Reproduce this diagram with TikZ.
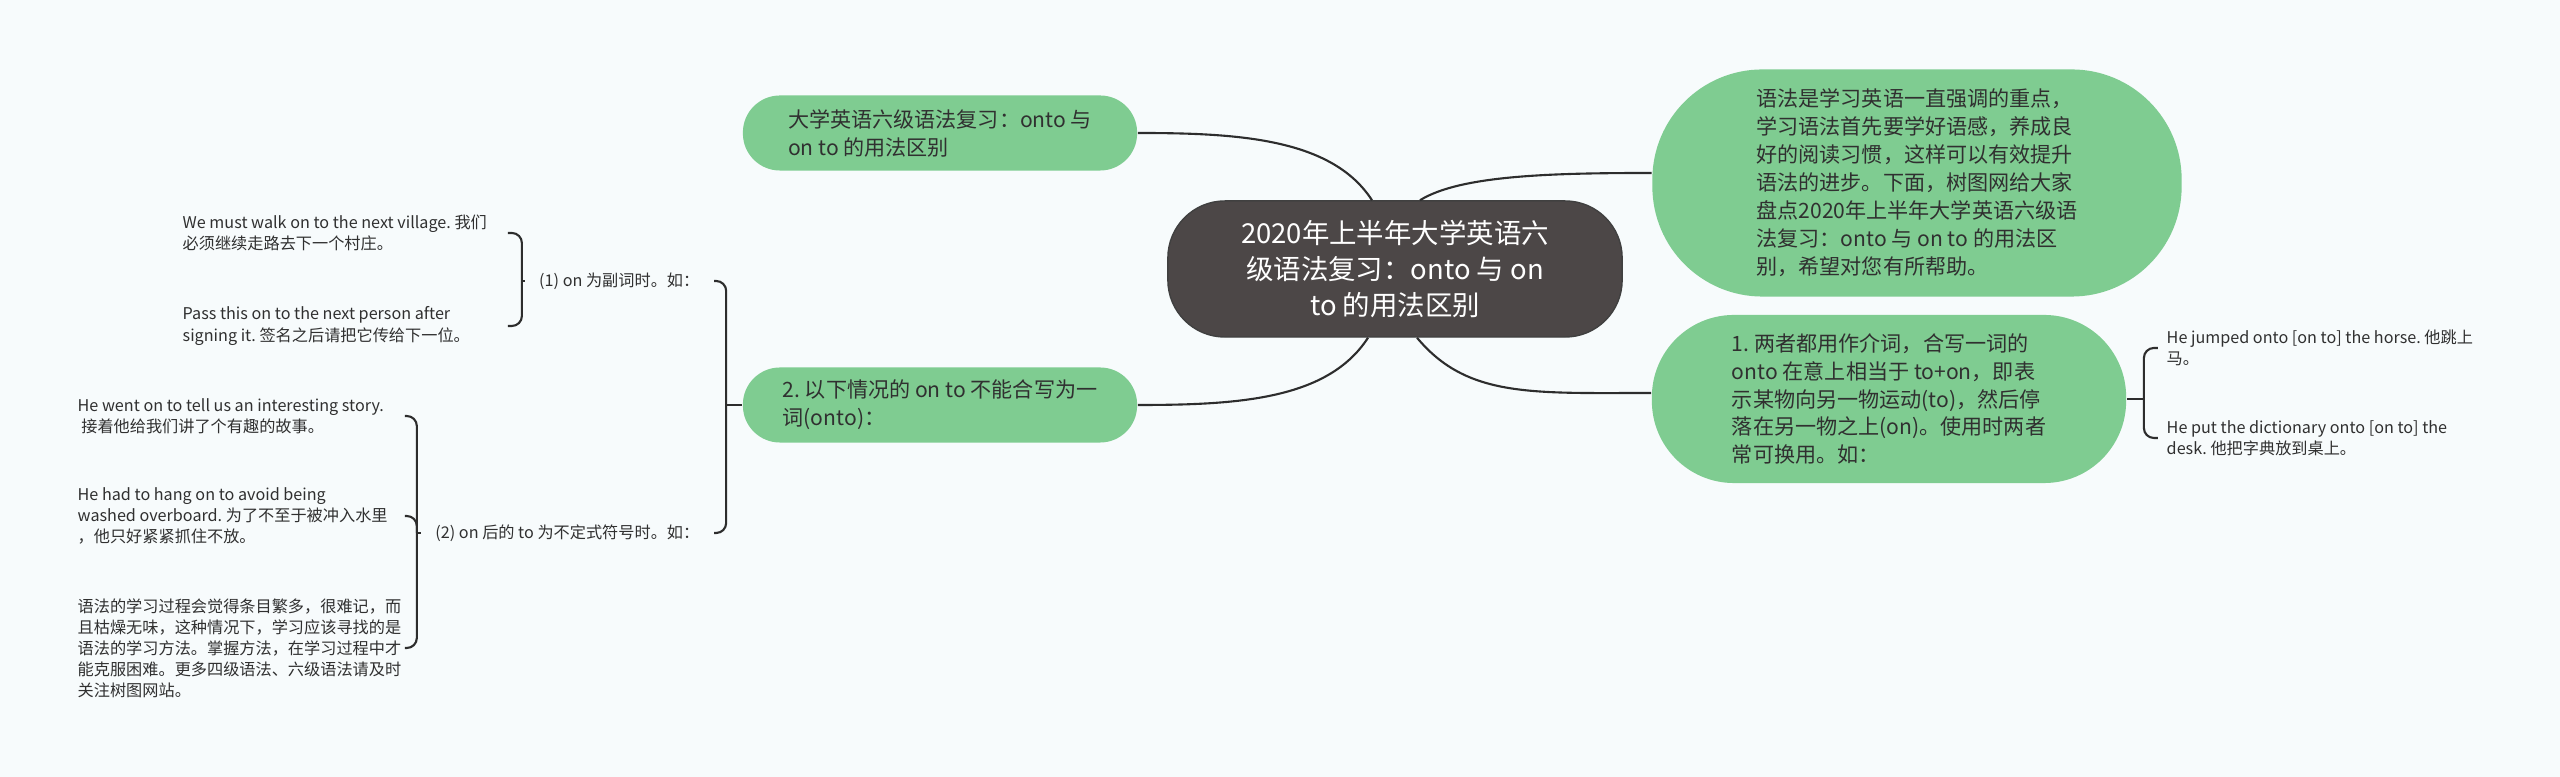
\documentclass[tikz,border=0pt]{standalone}
\usepackage{fontspec}
\setmainfont{Noto Sans CJK SC}
\frenchspacing
\usetikzlibrary{positioning,calc}
\definecolor{bgc}{RGB}{247,251,252}
\definecolor{darkc}{RGB}{76,71,71}
\definecolor{greenc}{RGB}{127,204,145}
\definecolor{inkc}{RGB}{48,48,48}
\definecolor{linec}{RGB}{45,45,45}
\tikzset{
  root/.style={draw=black!75, fill=darkc, text=white, line width=0.4pt,
    rounded corners=0.57cm, minimum width=4.54cm, minimum height=1.36cm,
    align=center, font=\fontsize{7.8}{10.2}\selectfont},
  topic/.style={fill=greenc, text=inkc, align=left, inner sep=0pt,
    font=\fontsize{6}{7.95}\selectfont},
  leaf/.style={text=inkc, align=left, inner sep=0pt,
    font=\fontsize{4.6}{6}\selectfont},
  caselabel/.style={text=inkc, inner xsep=0.14cm, inner ysep=0pt,
    font=\fontsize{4.6}{6}\selectfont},
  link/.style={draw=linec, line width=0.6pt},
  brace/.style={link, rounded corners=0.1cm}
}

\begin{document}
\begin{tikzpicture}[x=0.01cm, y=-0.01cm]
    \fill[bgc] (0,0) rectangle (2560,777);

    \node[root] (ctr) at (1395,269) {2020年上半年大学英语六\\级语法复习：onto 与 on\\to 的用法区别};

    \node[topic, minimum width=3.94cm, minimum height=0.75cm, rounded corners=0.37cm]
      (tl) at (940,133) {大学英语六级语法复习：onto 与\\on to 的用法区别};
    \node[topic, minimum width=3.94cm, minimum height=0.75cm, rounded corners=0.37cm]
      (two) at (940,405) {2. 以下情况的 on to 不能合写为一\\词(onto)：};
    \node[topic, minimum width=5.29cm, minimum height=2.27cm, rounded corners=1.1cm]
      (intro) at (1917,183) {语法是学习英语一直强调的重点，\\学习语法首先要学好语感，养成良\\好的阅读习惯，这样可以有效提升\\语法的进步。下面，树图网给大家\\盘点2020年上半年大学英语六级语\\法复习：onto 与 on to 的用法区\\别，希望对您有所帮助。};
    \node[topic, minimum width=4.74cm, minimum height=1.68cm, rounded corners=0.82cm]
      (one) at (1889,399) {1. 两者都用作介词，合写一词的\\onto 在意上相当于 to+on，即表\\示某物向另一物运动(to)，然后停\\落在另一物之上(on)。使用时两者\\常可换用。如：};

    \draw[link] ([xshift=-0.23cm]ctr.north) .. controls +(-40,-62) and +(100,0) .. (tl.east);
    \draw[link] ([xshift=-0.27cm]ctr.south) .. controls +(-40,62) and +(100,0) .. (two.east);
    \draw[link] ([xshift=0.25cm]ctr.north) .. controls +(40,-25) and +(-100,0) .. ([yshift=0.1cm]intro.west);
    \draw[link] ([xshift=0.22cm]ctr.south) .. controls +(50,60) and +(-120,0) .. ([yshift=0.06cm]one.west);

    % right examples
    \node[leaf, anchor=west] (hj) at (2166,348) {He jumped onto [on to] the horse. 他跳上\\马。};
    \node[leaf, anchor=west] (pd) at (2166,438) {He put the dictionary onto [on to] the\\desk. 他把字典放到桌上。};
    \coordinate (b3) at ([xshift=0.17cm]one.east);
    \draw[link] (one.east) -- (b3);
    \draw[brace] ([xshift=0.14cm]b3 |- hj.west) -| (b3) |- ([xshift=0.14cm]b3 |- pd.west);

    % left cases
    \node[caselabel, anchor=east] (lab1) at (714,281) {(1) on 为副词时。如：};
    \node[caselabel, anchor=east] (lab2) at (714,533) {(2) on 后的 to 为不定式符号时。如：};
    \coordinate (b0) at ([xshift=-0.16cm]two.west);
    \draw[link] (b0) -- (two.west);
    \draw[brace] (lab1.east) -| (b0) |- (lab2.east);

    \node[leaf, anchor=west] (wm) at (182,233) {We must walk on to the next village. 我们\\必须继续走路去下一个村庄。};
    \node[leaf, anchor=west] (pt) at (182,326) {Pass this on to the next person after\\signing it. 签名之后请把它传给下一位。};
    \coordinate (b1) at ([xshift=-1.92cm]lab1.east);
    \draw[link] (b1) -- (lab1.west);
    \draw[brace] ([xshift=-0.14cm]b1 |- wm.east) -| (b1) |- ([xshift=-0.14cm]b1 |- pt.east);

    \node[leaf, anchor=west] (hw) at (77,416) {He went on to tell us an interesting story.\\~接着他给我们讲了个有趣的故事。};
    \node[leaf, anchor=west] (hh) at (77,516) {He had to hang on to avoid being\\washed overboard. 为了不至于被冲入水里\\，他只好紧紧抓住不放。};
    \node[leaf, anchor=west] (yf) at (77,648) {语法的学习过程会觉得条目繁多，很难记，而\\且枯燥无味，这种情况下，学习应该寻找的是\\语法的学习方法。掌握方法，在学习过程中才\\能克服困难。更多四级语法、六级语法请及时\\关注树图网站。};
    \coordinate (b2) at ([xshift=-2.97cm]lab2.east);
    \draw[link] (b2) -- (lab2.west);
    \draw[brace] ([xshift=-0.12cm]b2 |- hw.east) -| (b2) |- ([xshift=-0.12cm]b2 |- yf.east);
    \draw[brace] ([xshift=-0.12cm]b2 |- hh.east) -| (b2);
\end{tikzpicture}
\end{document}
